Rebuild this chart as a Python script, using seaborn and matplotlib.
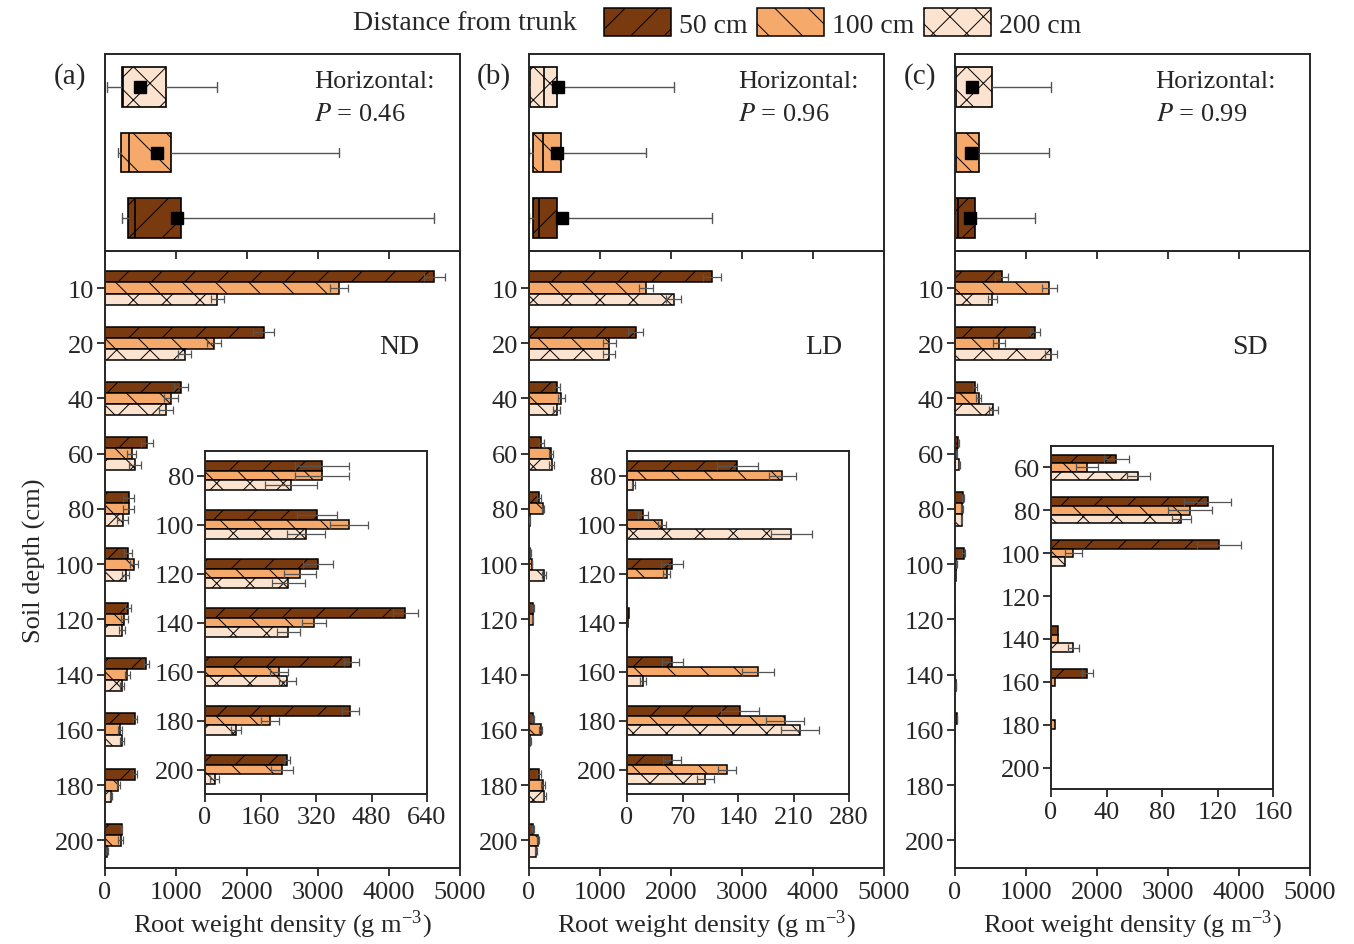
import numpy as np
import pandas as pd
import matplotlib
matplotlib.use("Agg")
import matplotlib.pyplot as plt
import matplotlib.patches as mpatches
import seaborn as sns

# soil depths (cm) and distances from trunk
depths = ["10", "20", "40", "60", "80", "100", "120", "140", "160", "180", "200"]
distances = ["50 cm", "100 cm", "200 cm"]

# root weight density (g m-3)
nd_50 = [4636, 2236, 1065, 592, 337, 323, 326, 578, 422, 419, 237]
nd_100 = [3300, 1534, 929, 375, 337, 415, 274, 315, 212, 188, 221]
nd_200 = [1582, 1122, 858, 422, 248, 290, 240, 240, 237, 89, 28]
nd_50_se = [150, 150, 100, 80, 78, 58, 44, 35, 22, 25, 9]
nd_100_se = [128, 104, 100, 60, 78, 56, 46, 35, 26, 26, 32]
nd_200_se = [95, 90, 100, 85, 76, 55, 47, 33, 24, 14, 13]

ld_50 = [2576, 1501, 388, 175, 139, 20, 57, 2, 57, 142, 57]
ld_100 = [1652, 1132, 455, 308, 196, 44, 50, 1, 165, 199, 126]
ld_200 = [2036, 1127, 388, 317, 8, 207, 0, 0, 20, 218, 99]
ld_50_se = [123, 109, 47, 33, 26, 6, 14, 0, 13, 24, 11]
ld_100_se = [100, 95, 52, 24, 17, 5, 4, 0, 20, 24, 11]
ld_200_se = [104, 85, 47, 33, 2, 26, 0, 0, 4, 24, 11]

sd_50 = [656, 1127, 278, 47, 113, 121, 0, 5, 26, 0, 0]
sd_100 = [1330, 623, 335, 26, 100, 16, 0, 5, 3, 3, 0]
sd_200 = [528, 1354, 538, 63, 94, 10, 0, 16, 0, 0, 0]
sd_50_se = [94, 71, 28, 9, 17, 16, 0, 0, 4, 0, 0]
sd_100_se = [104, 85, 38, 8, 16, 6, 0, 0, 0, 0, 0]
sd_200_se = [66, 80, 61, 8, 7, 0, 0, 4, 0, 0, 0]

p_values = ["0.46", "0.96", "0.99"]
treatments = ["ND", "LD", "SD"]
panel_tags = ["(a)", "(b)", "(c)"]

inset_depths = [depths[4:], depths[4:], depths[3:]]
inset_ticks = [[0, 160, 320, 480, 640], [0, 70, 140, 210, 280], [0, 40, 80, 120, 160]]

colors = ["#7a3a10", "#f5a96b", "#fce3cf"]
hatches = ["/", "\\", "x"]


def make_frame(v50, v100, v200, e50, e100, e200):
    return pd.DataFrame({
        "depth": depths * 3,
        "distance": np.repeat(distances, len(depths)),
        "rwd": v50 + v100 + v200,
        "se": e50 + e100 + e200,
    })


frames = [
    make_frame(nd_50, nd_100, nd_200, nd_50_se, nd_100_se, nd_200_se),
    make_frame(ld_50, ld_100, ld_200, ld_50_se, ld_100_se, ld_200_se),
    make_frame(sd_50, sd_100, sd_200, sd_50_se, sd_100_se, sd_200_se),
]

sns.set_style("ticks")
plt.rcParams["font.family"] = ["Liberation Serif", "DejaVu Serif"]
plt.rcParams["mathtext.fontset"] = "stix"
plt.rcParams["font.size"] = 19
plt.rcParams["axes.linewidth"] = 1.4
plt.rcParams["hatch.linewidth"] = 0.7
plt.rcParams["xtick.major.width"] = 1.3
plt.rcParams["ytick.major.width"] = 1.3
plt.rcParams["xtick.major.size"] = 6
plt.rcParams["ytick.major.size"] = 6
plt.rcParams["xtick.direction"] = "out"
plt.rcParams["ytick.direction"] = "out"


def draw_bars(ax, df, order):
    sub = df[df["depth"].isin(order)]
    sns.barplot(data=sub, x="rwd", y="depth", hue="distance", order=order,
                hue_order=distances, palette=colors, orient="h", width=0.6,
                errorbar=None, edgecolor="black", linewidth=1.1, legend=False,
                saturation=1, ax=ax)
    se = df.set_index(["distance", "depth"])["se"]
    for cont, dist, hatch in zip(ax.containers, distances, hatches):
        for patch in cont:
            patch.set_hatch(hatch)
            yc = patch.get_y() + patch.get_height() / 2
            dep = order[int(round(yc))]
            err = se[(dist, dep)]
            if err > 0:
                ax.errorbar(patch.get_width(), yc, xerr=err, fmt="none",
                            ecolor="#555555", elinewidth=0.9, capsize=3,
                            capthick=0.9, zorder=5)
    ax.set_xlabel("")
    ax.set_ylabel("")


lefts = [105 / 1354, 529 / 1354, 955 / 1354]
width = 355 / 1354
inset_lefts = [205 / 1354, 627 / 1354, 1051 / 1354]
inset_w = 222 / 1354

fig = plt.figure(figsize=(13.54, 9.45), dpi=100)

for i in range(3):
    df = frames[i]

    # main depth profile
    ax = fig.add_axes([lefts[i], 1 - 869 / 945, width, 617 / 945])
    draw_bars(ax, df, depths)
    ax.set_xlim(0, 5000)
    ax.set_xticks(range(0, 5001, 1000))
    ax.set_ylim(10.5, -0.67)
    ax.tick_params(axis="y", pad=2)
    ax.set_xlabel("Root weight density (g m$^{\\mathregular{-3}}$)", labelpad=3)
    ax.text(0.83, 0.846, treatments[i], transform=ax.transAxes, fontsize=20,
            ha="center", va="center")
    if i == 0:
        ax.set_ylabel("Soil depth (cm)", labelpad=6)

    # box plot of the profile per distance
    axt = fig.add_axes([lefts[i], 1 - 252 / 945, width, 197 / 945])
    stats = []
    for dist in distances[::-1]:
        vals = df.loc[df["distance"] == dist, "rwd"].to_numpy(dtype=float)
        q1, med, q3 = np.percentile(vals, [25, 50, 75], method="weibull")
        stats.append(dict(med=med, q1=q1, q3=q3, whislo=vals.min(),
                          whishi=vals.max(), mean=vals.mean(), fliers=[]))
    bp = axt.bxp(stats, positions=range(3), orientation="horizontal",
                 widths=0.6, capwidths=0.15, patch_artist=True, showmeans=True,
                 boxprops=dict(edgecolor="black", linewidth=1.2),
                 medianprops=dict(color="black", linewidth=1.2),
                 whiskerprops=dict(color="#555555", linewidth=1.0),
                 capprops=dict(color="#555555", linewidth=1.0),
                 meanprops=dict(marker="s", markerfacecolor="black",
                                markeredgecolor="black", markersize=9))
    for box, c, h in zip(bp["boxes"], colors[::-1], hatches[::-1]):
        box.set_facecolor(c)
        box.set_hatch(h)
    axt.set_xlim(0, 5000)
    axt.set_xticks(range(0, 5001, 1000))
    axt.set_xticklabels([])
    axt.set_yticks([])
    axt.set_ylim(2.5, -0.5)
    axt.text(0.59 if i < 2 else 0.565, 0.863, "Horizontal:", transform=axt.transAxes,
             ha="left", va="center", fontsize=19)
    axt.text(0.59 if i < 2 else 0.565, 0.695, "$P$ = " + p_values[i],
             transform=axt.transAxes, ha="left", va="center", fontsize=19)
    fig.text((lefts[i] * 1354 - 35) / 1354, 1 - 77 / 945, panel_tags[i],
             ha="center", va="center", fontsize=21)

    # zoomed inset of the deeper layers
    if i < 2:
        rect = [inset_lefts[i], 1 - 795 / 945, inset_w, 343 / 945]
    else:
        rect = [inset_lefts[i], 1 - 790 / 945, inset_w, 343 / 945]
    axi = fig.add_axes(rect)
    draw_bars(axi, df, inset_depths[i])
    axi.set_xlim(inset_ticks[i][0], inset_ticks[i][-1])
    axi.set_xticks(inset_ticks[i])
    axi.set_ylim(len(inset_depths[i]) - 0.5, -0.5)
    axi.tick_params(axis="y", pad=2)
    axi.tick_params(axis="x", pad=3)

# legend across the top
handles = [mpatches.Patch(facecolor=c, edgecolor="black", hatch=h, linewidth=1.1)
           for c, h in zip(colors, hatches)]
fig.text(577 / 1354, 1 - 24 / 945, "Distance from trunk", ha="right", va="center",
         fontsize=20)
fig.legend(handles, distances, loc="center left", bbox_to_anchor=(604 / 1354, 1 - 24 / 945),
           ncol=3, frameon=False, fontsize=20, handlelength=2.4, handleheight=1.15,
           handletextpad=0.3, columnspacing=0.35, borderaxespad=0, borderpad=0)

fig.savefig("out.png", dpi=100)
